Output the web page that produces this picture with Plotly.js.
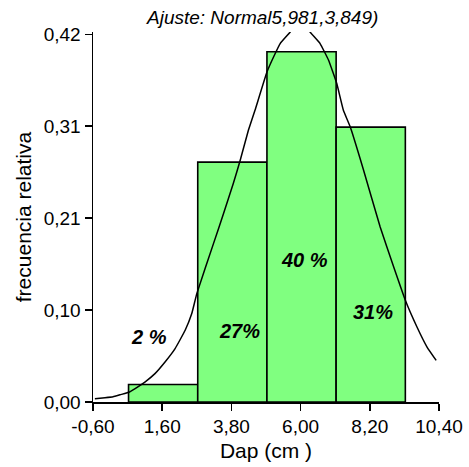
<!DOCTYPE html>
<html>
<head>
<meta charset="utf-8">
<script src="https://cdn.plot.ly/plotly-3.0.1.min.js"></script>
<style>html,body{margin:0;padding:0;background:#fff;}#chart{width:469px;height:467px;}</style>
</head>
<body>
<div id="chart"></div>
<script>
// Histogram bins (centres) and relative frequencies
var binCenters = [1.63, 3.83, 6.03, 8.23];
var binWidth = 2.2;
var relFreq = [0.02, 0.274, 0.40, 0.314];
var pctLabels = ["2 %", "27%", "40 %", "31%"];
var labelX = [1.19, 4.05, 6.11, 8.29];
var labelY = [0.074, 0.081, 0.162, 0.103];

// Fitted normal curve
var curveX = [-0.54, -0.22, 0.04, 0.26, 0.56, 0.74, 1.05, 1.37, 1.69, 2.01, 2.33, 2.54, 2.70,
              3.23, 3.55, 3.86, 4.08, 4.34, 4.55, 4.93, 5.14, 5.35, 5.67, 6.0, 6.30, 6.62,
              6.89, 7.15, 7.36, 7.58, 8.00, 8.53, 8.96, 9.33, 9.70, 10.02, 10.31];
var curveY = [0.0037, 0.0048, 0.0059, 0.0082, 0.0114, 0.0153, 0.0228, 0.0324, 0.0457, 0.061, 0.0819, 0.101, 0.1238,
              0.1809, 0.2152, 0.2495, 0.2761, 0.3103, 0.3332, 0.3769, 0.3941, 0.4094, 0.4226, 0.44, 0.4226, 0.4094,
              0.3903, 0.3637, 0.3332, 0.314, 0.265, 0.1999, 0.1542, 0.1162, 0.0857, 0.0628, 0.0476];

var xTickVals = [-0.6, 1.6, 3.8, 6.0, 8.2, 10.4];
var xTickText = ["-0,60", "1,60", "3,80", "6,00", "8,20", "10,40"];
var yTickVals = [0, 0.105, 0.21, 0.315, 0.42];
var yTickText = ["0,00", "0,10", "0,21", "0,31", "0,42"];

var titleText = "Ajuste: Normal5,981,3,849)";
var xTitle = "Dap (cm )";
var yTitle = "frecuencia relativa";

var FONT = "Liberation Sans, Arial, sans-serif";

var traces = [
  {
    type: "bar",
    x: binCenters,
    y: relFreq,
    width: binCenters.map(function(){ return binWidth; }),
    marker: {color: "#80FF80", line: {color: "#000000", width: 1.6}},
    hoverinfo: "none",
    showlegend: false
  },
  {
    type: "scatter",
    mode: "lines",
    x: curveX,
    y: curveY,
    line: {color: "#000000", width: 1.5, shape: "spline", smoothing: 0.3},
    hoverinfo: "none",
    showlegend: false
  }
];

var annotations = pctLabels.map(function(t, i){
  return {
    x: labelX[i], y: labelY[i], xref: "x", yref: "y",
    text: "<b><i>" + t + "</i></b>",
    showarrow: false,
    font: {family: FONT, size: 20, color: "#000"}
  };
});

var layout = {
  width: 469,
  height: 467,
  margin: {l: 93, r: 30, t: 32, b: 65, pad: 0},
  paper_bgcolor: "#ffffff",
  plot_bgcolor: "#ffffff",
  bargap: 0,
  title: {
    text: "<i>" + titleText + "</i>",
    font: {family: FONT, size: 19, color: "#000"},
    x: 0.56, xanchor: "center",
    y: 0.962, yanchor: "middle"
  },
  xaxis: {
    range: [-0.6, 10.4],
    tickvals: xTickVals,
    ticktext: xTickText,
    ticks: "outside",
    ticklen: 7,
    tickwidth: 1.5,
    tickcolor: "#000",
    showline: true,
    linecolor: "#000",
    linewidth: 1.5,
    showgrid: false,
    zeroline: false,
    tickfont: {family: FONT, size: 19, color: "#000"},
    title: {text: xTitle, font: {family: FONT, size: 21, color: "#000"}, standoff: 7}
  },
  yaxis: {
    range: [0, 0.4226],
    tickvals: yTickVals,
    ticktext: yTickText,
    ticks: "outside",
    ticklen: 7,
    tickwidth: 1.5,
    tickcolor: "#000",
    showline: true,
    linecolor: "#000",
    linewidth: 1.5,
    showgrid: false,
    zeroline: false,
    tickfont: {family: FONT, size: 19, color: "#000"},
    title: {text: yTitle, font: {family: FONT, size: 21, color: "#000"}, standoff: 6}
  },
  annotations: annotations
};

Plotly.newPlot("chart", traces, layout, {staticPlot: true, displayModeBar: false});
</script>
</body>
</html>
